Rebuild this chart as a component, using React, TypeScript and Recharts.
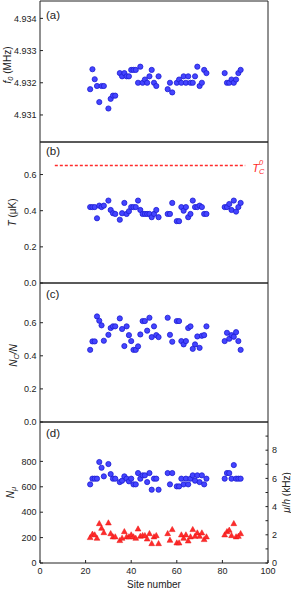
import React from 'react';
import { ScatterChart, Scatter, XAxis, YAxis, ReferenceLine } from 'recharts';

// site numbers shared by every panel
const sites = [
  22, 23, 24, 25, 26, 27, 28, 30, 31, 32, 33,
  35, 36, 37, 38, 39, 40, 41, 42, 43, 44, 45, 46, 47, 48, 49, 50, 51, 52,
  56, 57, 58,
  60, 61, 62, 63, 64, 65, 66, 67, 68, 69, 70, 71, 72, 73,
  81, 82, 83, 84, 85, 86, 87, 88,
];

// (a) trap frequency f0 (MHz)
const f0Mhz = [
  4.9318, 4.93242, 4.93211, 4.9319, 4.9314, 4.9319, 4.9319, 4.9312, 4.9315, 4.9316, 4.9316,
  4.9323, 4.9322, 4.9323, 4.9322, 4.9322, 4.9324, 4.9324, 4.9324, 4.932, 4.9325, 4.932, 4.9321, 4.932, 4.9322, 4.9324, 4.932, 4.9319, 4.9322,
  4.9318, 4.932, 4.9317,
  4.932, 4.9321, 4.932, 4.9322, 4.932, 4.9322, 4.932, 4.932, 4.9322, 4.9325, 4.9319, 4.932, 4.9324, 4.9323,
  4.9323, 4.932, 4.932, 4.9321, 4.932, 4.9321, 4.9323, 4.9324,
];

// (b) temperature T (uK)
const tempUk = [
  0.42, 0.42, 0.42, 0.358, 0.428, 0.42, 0.428, 0.456, 0.404, 0.386, 0.382,
  0.35, 0.386, 0.443, 0.382, 0.397, 0.42, 0.42, 0.42, 0.456, 0.404, 0.382, 0.382, 0.382, 0.382, 0.364, 0.382, 0.404, 0.364,
  0.382, 0.382, 0.443,
  0.342, 0.342, 0.42, 0.4, 0.42, 0.364, 0.382, 0.456, 0.42, 0.42, 0.428, 0.42, 0.382, 0.382,
  0.42, 0.42, 0.437, 0.404, 0.456, 0.395, 0.42, 0.443,
];
const tcLevel = 0.65;
const tcSpan = [6.5, 90];

// (c) condensate fraction Nc/N
const condFrac = [
  0.436, 0.487, 0.487, 0.638, 0.612, 0.584, 0.491, 0.527, 0.568, 0.578, 0.578,
  0.626, 0.562, 0.459, 0.578, 0.525, 0.489, 0.436, 0.436, 0.457, 0.529, 0.61, 0.61, 0.552, 0.63, 0.513, 0.578, 0.525, 0.513,
  0.63, 0.527, 0.485,
  0.61, 0.61, 0.489, 0.469, 0.489, 0.568, 0.578, 0.442, 0.469, 0.517, 0.448, 0.521, 0.525, 0.578,
  0.489, 0.539, 0.503, 0.525, 0.515, 0.543, 0.489, 0.436,
];

// (d) atom number (left) and chemical potential mu/h in kHz (right)
const nMu = [
  619, 664, 664, 664, 795, 750, 682, 779, 700, 664, 664,
  637, 648, 682, 664, 643, 664, 619, 619, 708, 664, 690, 690, 637, 708, 577, 664, 664, 577,
  708, 619, 708,
  603, 603, 664, 619, 664, 619, 664, 690, 648, 690, 637, 690, 619, 664,
  664, 708, 708, 664, 771, 664, 664, 664,
];
const muKHz = [
  1.8, 2.04, 1.99, 1.75, 2.79, 2.46, 2.15, 2.84, 2.08, 1.85, 1.85,
  1.59, 1.75, 2.22, 1.85, 1.85, 1.99, 1.85, 1.75, 2.41, 1.89, 1.94, 1.94, 1.7, 2.08, 1.37, 1.85, 1.94, 1.37,
  2.08, 1.61, 2.37,
  1.42, 1.42, 1.99, 1.75, 1.99, 1.56, 1.85, 2.37, 1.89, 2.13, 1.89, 2.13, 1.66, 1.85,
  1.99, 2.22, 2.32, 1.94, 2.79, 1.85, 1.89, 2.08,
];

const siteTicks = [0, 20, 40, 60, 80, 100];
const f0Ticks = [4.931, 4.932, 4.933, 4.934];
const f0Minor = [4.9305, 4.931, 4.9315, 4.932, 4.9325, 4.933, 4.9335, 4.934];
const fracTicks = [0, 0.2, 0.4, 0.6];
const fracMinor = [0, 0.1, 0.2, 0.3, 0.4, 0.5, 0.6, 0.7, 0.8];
const nTicks = [0, 200, 400, 600, 800];
const muTicks = [0, 1, 2, 3, 4, 5, 6, 7, 8, 9];

const FONT = '"Liberation Sans", Arial, Helvetica, sans-serif';
const INK = '#222';
const BLUE = '#4444ff';
const RED = '#ff2b2b';

const toPoints = (ys: number[]) => sites.map((x, i) => ({ x, y: ys[i] }));

const BlueDot = (props: any) => (
  <circle cx={props.cx} cy={props.cy} r={2.6} fill={BLUE} stroke="#1d1dd2" strokeWidth={0.8} />
);

const RedTriangle = (props: any) => {
  const { cx, cy } = props;
  return (
    <polygon
      points={`${cx},${cy - 3.2} ${cx + 2.9},${cy + 2} ${cx - 2.9},${cy + 2}`}
      fill={RED}
      stroke="#e81414"
      strokeWidth={0.5}
    />
  );
};

const tickStyle = { fill: INK, fontSize: 9, fontFamily: FONT };

const yTitle = (x: number, dy: number, content: React.ReactNode, angle = -90) => (props: any) => {
  const vb = props.viewBox;
  const cy = vb.y + vb.height / 2 + dy;
  return (
    <text x={x} y={cy} transform={`rotate(${angle} ${x} ${cy})`} textAnchor="middle"
      fontSize={10} fontFamily={FONT} fill={INK}>
      {content}
    </text>
  );
};

const letterLabel = (letter: string, dy: number) => (props: any) => {
  const vb = props.viewBox;
  return (
    <text x={vb.x + 6} y={vb.y + vb.height + dy} fontSize={11.5} fontFamily={FONT} fill={INK}>
      ({letter})
    </text>
  );
};

const siteLabel = (props: any) => {
  const vb = props.viewBox;
  return (
    <text x={vb.x + vb.width / 2} y={vb.y + 25} textAnchor="middle" fontSize={10} fontFamily={FONT} fill={INK}>
      Site number
    </text>
  );
};

const tcLabel = (props: any) => {
  const vb = props.viewBox;
  const x = vb.x + vb.width + 7;
  const y = vb.y;
  return (
    <g fill={RED} fontFamily={FONT} fontStyle="italic">
      <text x={x} y={y + 6} fontSize={11.5}>T</text>
      <text x={x + 6.8} y={y - 1} fontSize={7.5}>0</text>
      <text x={x + 6.8} y={y + 8} fontSize={7.5}>C</text>
    </g>
  );
};

interface PanelProps {
  top: number;
  height: number;
  letter: string;
  letterDy: number;
  domain: [number, number];
  ticks: number[];
  fmt: (v: number) => string;
  title: (props: any) => React.ReactElement;
  rightDomain?: [number, number];
  rightTicks: number[];
  rightFmt?: (v: number) => string;
  rightTitle?: (props: any) => React.ReactElement;
  siteLabels?: boolean;
  children: React.ReactNode;
}

// bottom strip is a few px tall on the inner panels so the 0.0 label is not clipped;
// the next panel is drawn over that strip (transparent background)
const Panel = (p: PanelProps) => (
  <div style={{ position: 'absolute', left: 0, top: p.top }}>
    <ScatterChart width={291} height={p.height} margin={{ top: 0, right: 0, bottom: 0, left: 0 }}>
      <XAxis xAxisId="t" orientation="top" type="number" dataKey="x" domain={[0, 100]} allowDataOverflow
        ticks={siteTicks} interval={0} height={1} tick={false} tickSize={-3} stroke={INK}
        label={letterLabel(p.letter, p.letterDy)} />
      <XAxis xAxisId="b" orientation="bottom" type="number" dataKey="x" domain={[0, 100]} allowDataOverflow
        ticks={siteTicks} interval={0} height={p.siteLabels ? 27 : 6}
        tick={p.siteLabels ? tickStyle : false} tickSize={-3} tickMargin={8} stroke={INK}
        label={p.siteLabels ? siteLabel : undefined} />
      <YAxis yAxisId="l" type="number" dataKey="y" domain={p.domain} allowDataOverflow
        ticks={p.ticks} interval={0} width={40} tick={tickStyle} tickFormatter={p.fmt}
        tickSize={-3} tickMargin={6.5} stroke={INK} label={p.title} />
      <YAxis yAxisId="r" orientation="right" type="number" dataKey="y" domain={p.rightDomain ?? p.domain}
        allowDataOverflow ticks={p.rightTicks} interval={0} width={23}
        tick={p.rightFmt ? tickStyle : false} tickFormatter={p.rightFmt}
        tickSize={-2.5} tickMargin={6.5} stroke={INK} label={p.rightTitle} />
      {p.children}
    </ScatterChart>
  </div>
);

export default function App() {
  return (
    <div style={{ position: 'absolute', left: 0, top: 0, width: 291, height: 590, background: '#fff' }}>
      <Panel top={0} height={148} letter="a" letterDy={18} domain={[4.93016, 4.93454]}
        ticks={f0Ticks} fmt={(v) => v.toFixed(3)} rightTicks={f0Minor}
        title={yTitle(11, -6.5, <>
          <tspan fontStyle="italic">f</tspan>
          <tspan fontStyle="italic" fontSize={7.5} dy={2}>0</tspan>
          <tspan dy={-2}> (MHz)</tspan>
        </>)}>
        <Scatter data={toPoints(f0Mhz)} xAxisId="b" yAxisId="l" shape={BlueDot} isAnimationActive={false} />
      </Panel>

      <Panel top={141} height={148} letter="b" letterDy={13} domain={[0, 0.78]}
        ticks={fracTicks} fmt={(v) => v.toFixed(1)} rightTicks={fracMinor}
        title={yTitle(16, 0, <>
          <tspan fontStyle="italic">T</tspan>
          <tspan> (μK)</tspan>
        </>)}>
        <ReferenceLine xAxisId="b" yAxisId="l"
          segment={[{ x: tcSpan[0], y: tcLevel }, { x: tcSpan[1], y: tcLevel }]}
          stroke={RED} strokeWidth={1.3} strokeDasharray="3 2" label={tcLabel} />
        <Scatter data={toPoints(tempUk)} xAxisId="b" yAxisId="l" shape={BlueDot} isAnimationActive={false} />
      </Panel>

      <Panel top={282} height={146} letter="c" letterDy={15} domain={[0, 0.84]}
        ticks={fracTicks} fmt={(v) => v.toFixed(1)} rightTicks={fracMinor}
        title={yTitle(17, 3, <>
          <tspan fontStyle="italic">N</tspan>
          <tspan fontStyle="italic" fontSize={7.5} dy={2}>C</tspan>
          <tspan fontStyle="italic" dy={-2}>/N</tspan>
        </>)}>
        <Scatter data={toPoints(condFrac)} xAxisId="b" yAxisId="l" shape={BlueDot} isAnimationActive={false} />
      </Panel>

      <Panel top={421} height={169} letter="d" letterDy={14.5} domain={[0, 1110]}
        ticks={nTicks} fmt={(v) => String(v)}
        rightDomain={[0, 10]} rightTicks={muTicks} rightFmt={(v) => (v % 2 === 0 ? String(v) : '')}
        siteLabels
        title={yTitle(14, 0, <>
          <tspan fontStyle="italic">N</tspan>
          <tspan fontStyle="italic" fontSize={7.5} dy={2}>μ</tspan>
        </>)}
        rightTitle={yTitle(290, 0, <>
          <tspan fontStyle="italic">μ</tspan>
          <tspan>/</tspan>
          <tspan fontStyle="italic">h</tspan>
          <tspan> (kHz)</tspan>
        </>)}>
        <Scatter data={toPoints(nMu)} xAxisId="b" yAxisId="l" shape={BlueDot} isAnimationActive={false} />
        <Scatter data={toPoints(muKHz)} xAxisId="b" yAxisId="r" shape={RedTriangle} isAnimationActive={false} />
      </Panel>
    </div>
  );
}
